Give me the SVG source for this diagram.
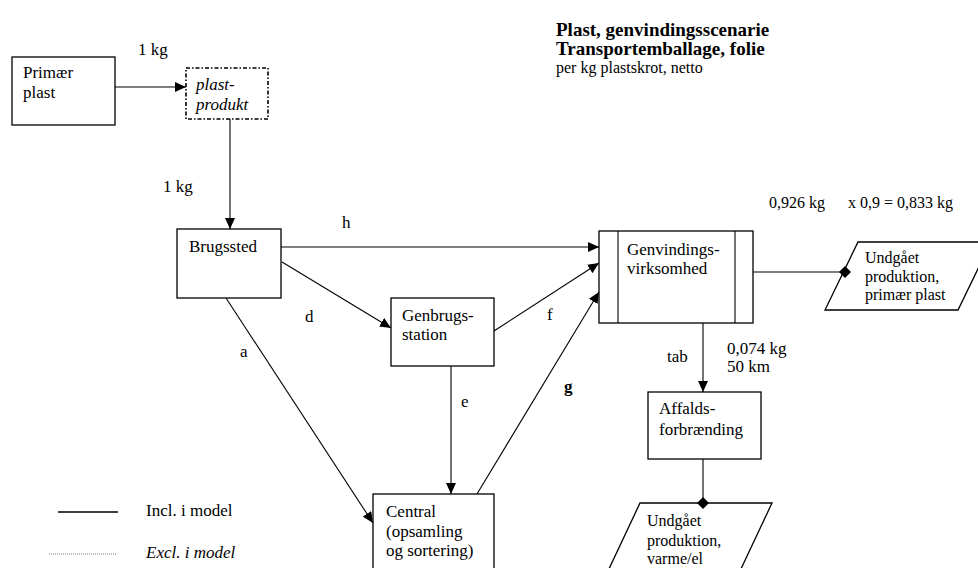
<svg xmlns="http://www.w3.org/2000/svg" width="978" height="568" viewBox="0 0 978 568">
<style>
text{font-family:"Liberation Serif","Times New Roman",serif;font-size:17px;fill:#000}
.i{font-style:italic}
.b{font-weight:bold}
.t{font-weight:bold;font-size:19px}
.box{fill:#fff;stroke:#000;stroke-width:1.3}
.dash{fill:#fff;stroke:#000;stroke-width:1.6;stroke-dasharray:4 2 1.5 2}
.c{fill:none;stroke:#000;stroke-width:1.1}
.ar{marker-end:url(#ah)}
</style>
<defs>
<marker id="ah" markerUnits="userSpaceOnUse" markerWidth="12" markerHeight="10" refX="11" refY="5" orient="auto">
<path d="M0,0 L11,5 L0,10 Z" fill="#000"/>
</marker>
</defs>
<rect width="978" height="568" fill="#fff"/>

<g id="title">
<text class="t" x="556" y="36">Plast, genvindingsscenarie</text>
<text class="t" x="556" y="55">Transportemballage, folie</text>
<text x="556" y="73" style="font-size:16px">per kg plastskrot, netto</text>
</g>

<g id="connectors">
<line class="c ar" x1="115" y1="87" x2="186" y2="87"/>
<line class="c ar" x1="230" y1="119" x2="230" y2="229"/>
<line class="c ar" x1="281" y1="247" x2="599" y2="247"/>
<line class="c ar" x1="282" y1="262" x2="391" y2="328"/>
<line class="c ar" x1="226" y1="298" x2="373" y2="523"/>
<line class="c ar" x1="451" y1="366" x2="451" y2="494"/>
<line class="c ar" x1="494" y1="331" x2="599" y2="263"/>
<line class="c ar" x1="477" y1="494" x2="599" y2="292"/>
<line class="c ar" x1="703" y1="323" x2="703" y2="392"/>
<line class="c" x1="753" y1="272" x2="845" y2="272"/>
<line class="c" x1="703" y1="459" x2="703" y2="503"/>
</g>

<g id="labels">
<text x="138" y="55">1 kg</text>
<text x="163" y="192">1 kg</text>
<text x="342" y="228">h</text>
<text x="305" y="322">d</text>
<text x="240" y="357">a</text>
<text x="461" y="407">e</text>
<text x="547" y="320">f</text>
<text class="b" x="564" y="392">g</text>
<text x="667" y="362">tab</text>
<text x="727" y="354">0,074 kg</text>
<text x="727" y="372">50 km</text>
<text x="769" y="208" style="font-size:16px">0,926 kg</text>
<text x="848" y="208" style="font-size:16px">x 0,9 = 0,833 kg</text>
</g>

<g id="primaer-plast">
<rect class="box" x="12" y="57" width="103" height="68"/>
<text x="23" y="78">Primær</text>
<text x="23" y="98">plast</text>
</g>

<g id="plast-produkt">
<rect class="dash" x="186" y="68" width="82" height="51"/>
<text class="i" x="196" y="90">plast-</text>
<text class="i" x="196" y="110">produkt</text>
</g>

<g id="brugssted">
<rect class="box" x="177" y="229" width="104" height="69"/>
<text x="189" y="252">Brugssted</text>
</g>

<g id="genbrugsstation">
<rect class="box" x="391" y="298" width="103" height="68"/>
<text x="402" y="321">Genbrugs-</text>
<text x="402" y="340">station</text>
</g>

<g id="central">
<rect class="box" x="373" y="494" width="121" height="80"/>
<text x="386" y="517">Central</text>
<text x="386" y="537">(opsamling</text>
<text x="386" y="556">og sortering)</text>
</g>

<g id="genvindingsvirksomhed">
<rect class="box" x="599" y="231" width="154" height="92"/>
<line class="c" x1="618" y1="231" x2="618" y2="323"/>
<line class="c" x1="735" y1="231" x2="735" y2="323"/>
<text x="627" y="255">Genvindings-</text>
<text x="627" y="274">virksomhed</text>
</g>

<g id="undgaaet-primaer">
<path class="box" d="M858,242 L991,242 L958,310 L825,310 Z"/>
<path d="M845,266 L851,272 L845,278 L839,272 Z" fill="#000"/>
<text x="865" y="263" style="font-size:16px">Undgået</text>
<text x="865" y="282" style="font-size:16px">produktion,</text>
<text x="865" y="300" style="font-size:16px">primær plast</text>
</g>

<g id="affaldsforbraending">
<rect class="box" x="648" y="392" width="113" height="67"/>
<text x="659" y="414">Affalds-</text>
<text x="659" y="435">forbrænding</text>
</g>

<g id="undgaaet-varme">
<path class="box" d="M640,503 L772,503 L740,571 L608,571 Z"/>
<path d="M703,497 L709,503 L703,509 L697,503 Z" fill="#000"/>
<text x="647" y="526" style="font-size:16px">Undgået</text>
<text x="647" y="546" style="font-size:16px">produktion,</text>
<text x="647" y="564" style="font-size:16px">varme/el</text>
</g>

<g id="legend">
<line x1="58" y1="512" x2="118" y2="512" stroke="#000" stroke-width="1.3"/>
<text x="146" y="516">Incl. i model</text>
<line x1="49" y1="554" x2="117" y2="554" stroke="#777" stroke-width="1" stroke-dasharray="1 1"/>
<text class="i" x="146" y="558">Excl. i model</text>
</g>
</svg>
